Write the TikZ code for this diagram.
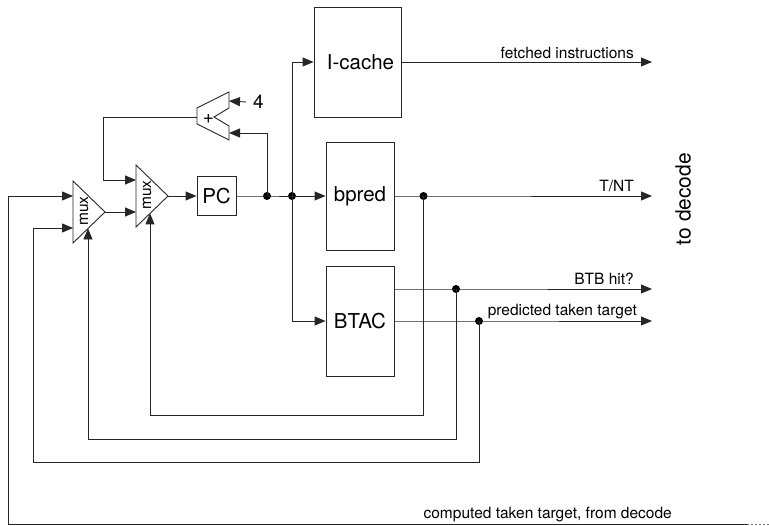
\documentclass[tikz,border=0pt]{standalone}
\usepackage{fontspec}
\setmainfont{TeX Gyre Heros}
\usetikzlibrary{arrows.meta,calc}
\begin{document}
\begin{tikzpicture}[x=1pt,y=-1pt,
  wire/.style={draw=black!85, line width=0.9pt},
  arr/.style={wire, -{Triangle[length=11pt,width=9pt]}},
  blk/.style={draw=black!85, line width=0.9pt, rectangle, inner sep=0pt, font=\fontsize{20.5}{24}\selectfont},
  lbl/.style={font=\fontsize{15.5}{18}\selectfont, inner sep=0pt},
  jdot/.style={circle, fill=black, inner sep=0pt, minimum size=8pt},
  muxtxt/.style={rotate=90, font=\fontsize{15.5}{16}\selectfont, inner sep=0pt},
  shp/.style={draw=black!85, line width=0.9pt, line join=miter}
]
\useasboundingbox (0,0) rectangle (769,526);

% boxes
\node[blk, minimum width=87pt, minimum height=110pt] (icache) at (357.5,62) {\hspace*{6pt}I-cache};
\node[blk, minimum width=68pt, minimum height=108pt] (bpred) at (360,196) {bpred};
\node[blk, minimum width=68pt, minimum height=110pt] (btac) at (360,321) {BTAC};
\node[blk, minimum width=39pt, minimum height=39pt] (pc) at (216.5,196) {PC};

% muxes
\coordinate (m1t) at (73,181); \coordinate (m1o) at (105,212); \coordinate (m1b) at (73,243);
\draw[shp] (m1t) -- (m1o) -- (m1b) -- cycle;
\node[muxtxt] (m1txt) at (84,211) {mux};
\coordinate (m2t) at (136,165); \coordinate (m2o) at (168,196); \coordinate (m2b) at (136,227);
\draw[shp] (m2t) -- (m2o) -- (m2b) -- cycle;
\node[muxtxt] (m2txt) at (147,195) {mux};
\coordinate (m1in1) at (73,196); \coordinate (m1in2) at (73,228);
\coordinate (m2in1) at (136,180); \coordinate (m2in2) at (136,212);
\coordinate (m1sel) at (88,228.5); \coordinate (m2sel) at (150,213.4);

% adder
\draw[shp] (197,108) -- (229,92) -- (229,108) -- (214,117) -- (229,126) -- (229,140) -- (197,124) -- cycle;
\node[font=\fontsize{19}{20}\selectfont, inner sep=0pt] (plus) at (208.5,119) {+};
\coordinate (addin1) at (229,101);
\coordinate (addin2) at (229,133);
\coordinate (addout) at (197,117);
\node[font=\fontsize{19}{20}\selectfont, inner ysep=0pt, inner xsep=7pt] (four) at (258.5,102) {4};

% junctions
\node[jdot] (j1) at (267,196) {};
\node[jdot] (j2) at (292,196) {};
\node[jdot] (jt) at (423.5,196) {};
\node[jdot] (jb) at (456,289) {};
\node[jdot] (jp) at (479,321) {};

% outputs
\coordinate (ofi) at (652,62);
\coordinate (otn) at (652,196);
\coordinate (obh) at (652,289);
\coordinate (opt) at (652,321);

% forward paths
\draw[arr] (m2o) -- (pc.west);
\draw[arr] (m1o) -- (m2in2);
\draw[wire] (pc.east) -- (j1.center) -- (j2.center);
\draw[arr] (j2.center) -- (bpred.west);
\draw[arr] (j2.center) -- (j2.center |- icache.west) -- (icache.west);
\draw[arr] (j2.center) -- (j2.center |- btac.west) -- (btac.west);
\draw[arr] (j1.center) -- (j1.center |- addin2) -- (addin2);
\draw[arr] (four.west) -- (addin1);
\draw[arr] (addout) -- (103,117) -- (103,180) -- (m2in1);

\draw[arr] (icache.east |- ofi) -- (ofi);
\draw[arr] (bpred.east) -- (jt.center) -- (otn);
\draw[arr] (btac.east |- jb) -- (jb.center) -- (obh);
\draw[arr] (btac.east |- jp) -- (jp.center) -- (opt);

% feedback
\draw[arr] (jt.center) -- (423.5,415) -- (150,415) -- (m2sel);
\draw[arr] (jb.center) -- (456,439) -- (88,439) -- (m1sel);
\draw[arr] (jp.center) -- (479,462) -- (33,462) -- (33,228) -- (m1in2);
\coordinate (dec) at (747,524);
\coordinate (decend) at (769,524);
\draw[arr] (dec) -- (8,524) -- (8,196) -- (m1in1);
\draw[draw=black!55, line width=0.9pt, dash pattern=on 2pt off 2pt] (dec) -- (decend);

% labels
\node[lbl, anchor=base east] (lfi) at (634,59) {fetched instructions};
\node[lbl, anchor=base east] (ltn) at (634,192) {T/NT};
\node[lbl, anchor=base east] (lbh) at (634,285) {BTB hit?};
\node[lbl, anchor=base east] (lpt) at (637,316) {predicted taken target};
\node[lbl, anchor=base east] (lct) at (672,519) {computed taken target, from decode};
\node[font=\fontsize{21}{24}\selectfont, inner sep=0pt, rotate=90] (todec) at (683,199) {to decode};
\end{tikzpicture}
\end{document}
